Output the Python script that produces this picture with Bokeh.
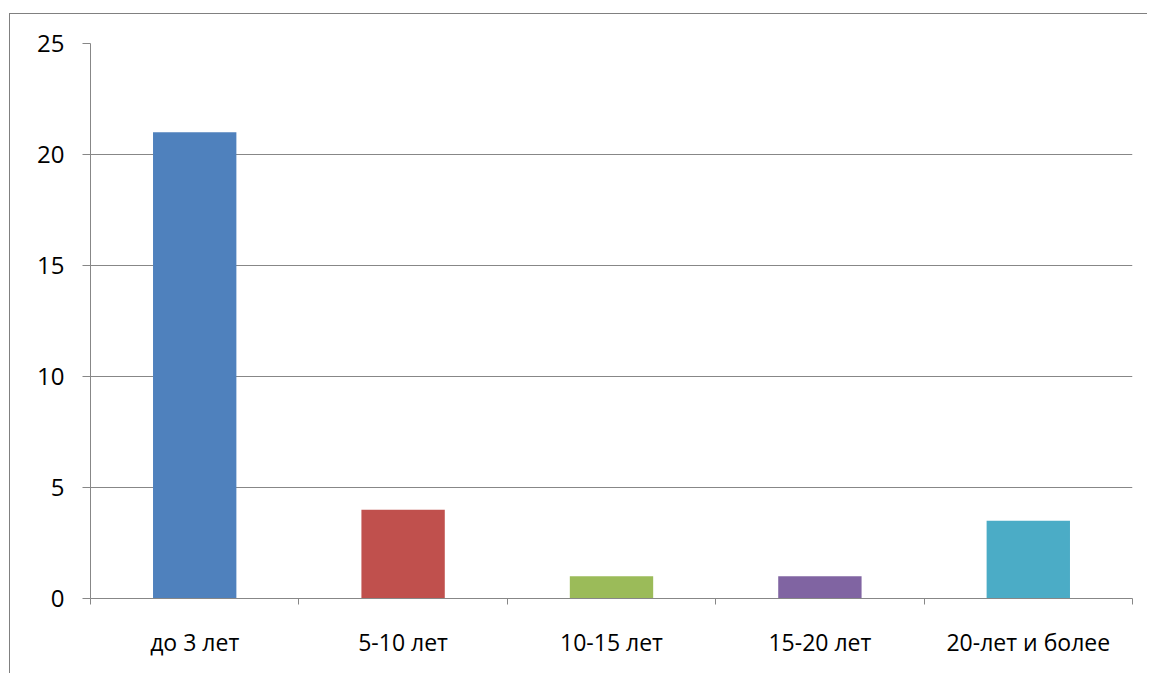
from bokeh.plotting import figure
from bokeh.models import FixedTicker, Range1d, ColumnDataSource
from bokeh.embed import file_html
from bokeh.resources import INLINE

categories = ["до 3 лет", "5-10 лет", "10-15 лет", "15-20 лет", "20-лет и более"]
values = [21, 4, 1, 1, 3.5]
colors = ["#4F81BD", "#C0504D", "#9BBB59", "#8064A2", "#4BACC6"]
y_ticks = [0, 5, 10, 15, 20, 25]

xs = [i + 0.5 for i in range(len(categories))]
src = ColumnDataSource(dict(x=xs, top=values, color=colors, cat=categories))

p = figure(width=1138, height=660, output_backend="svg", toolbar_location=None,
           x_range=Range1d(0, len(categories)), y_range=Range1d(0, 25),
           min_border_left=80, min_border_right=16, min_border_top=29, min_border_bottom=76,
           styles={"border-left": "1.5px solid #808080", "border-top": "1.5px solid #808080",
                   "margin-left": "9px", "margin-top": "13px"})

p.vbar(x="x", top="top", width=0.4, bottom=0, color="color", source=src, line_color=None)

p.outline_line_color = None
p.background_fill_color = "white"
p.border_fill_color = "white"

# x axis: labels at category centres, tick marks at boundaries
p.xaxis.ticker = FixedTicker(ticks=xs, minor_ticks=list(range(len(categories) + 1)))
p.xaxis.major_label_overrides = {x: c for x, c in zip(xs, categories)}
p.xaxis.major_tick_out = 0
p.xaxis.major_tick_in = 0
p.xaxis.minor_tick_out = 6
p.xaxis.minor_tick_in = 0
p.xaxis.minor_tick_line_color = "#878787"
p.xaxis.minor_tick_line_width = 1
p.xaxis.axis_line_color = "#878787"
p.xaxis.axis_line_width = 1
p.xaxis.major_label_standoff = 21
p.xaxis.major_label_text_font = "Open Sans"
p.xaxis.major_label_text_font_size = "23px"
p.xaxis.major_label_text_color = "black"

p.yaxis.ticker = FixedTicker(ticks=y_ticks, minor_ticks=[])
p.yaxis.major_tick_out = 8
p.yaxis.major_tick_in = 0
p.yaxis.major_tick_line_color = "#878787"
p.yaxis.axis_line_color = "#878787"
p.yaxis.major_label_standoff = 18
p.yaxis.major_label_text_font = "Open Sans"
p.yaxis.major_label_text_font_size = "24px"
p.yaxis.major_label_text_color = "black"

p.xgrid.grid_line_color = None
p.ygrid.ticker = FixedTicker(ticks=y_ticks)
p.ygrid.grid_line_color = "#878787"
p.ygrid.grid_line_width = 1

open("out.html", "w").write(file_html(p, INLINE))
